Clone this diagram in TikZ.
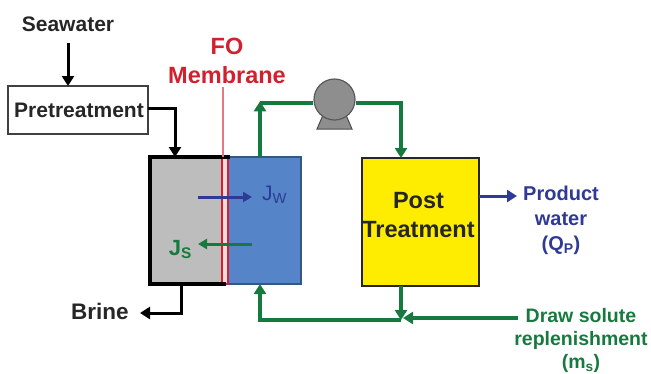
\documentclass[tikz,border=0pt]{standalone}
\usepackage{fontspec}
\setmainfont{Liberation Sans}
\usetikzlibrary{arrows.meta,calc}
\definecolor{dgreen}{HTML}{167A3E}
\definecolor{dblue}{HTML}{2F3A96}
\definecolor{fored}{HTML}{D3202E}
\definecolor{cellblue}{HTML}{5585C8}
\definecolor{cellgrey}{HTML}{BDBDBD}
\definecolor{pumpgrey}{HTML}{8E8E8E}
\tikzset{
  x=1pt,y=-1pt,
  lbl/.style={font=\bfseries\fontsize{21}{25}\selectfont,align=center,inner sep=0pt,text=black!85},
  flow/.style={line width=3pt,-{Triangle[length=10pt,width=12pt]}},
  inner flow/.style={line width=3pt,-{Triangle[length=9pt,width=10pt]}},
  gflow/.style={flow,draw=dgreen,line width=3.4pt},
  gline/.style={draw=dgreen,line width=3.4pt},
  box/.style={inner sep=0pt,outer sep=0pt,anchor=north west},
}
\begin{document}
\begin{tikzpicture}
\useasboundingbox (0,0) rectangle (651,373);
% boxes
\node[box,draw=black!75,line width=1.6pt,fill=white,minimum width=140pt,minimum height=48pt] (pre) at (8,86) {};
\node[lbl] (pretext) at (79,110) {Pretreatment};
\node[lbl] (sea) at (68,24) {Seawater};
\node[box,fill=cellgrey,minimum width=72pt,minimum height=127pt] (grey) at (150,157) {};
\node[box,draw=black!35!cellblue,line width=1.2pt,fill=cellblue,minimum width=73pt,minimum height=127pt] (blue) at (228,157) {};
\node[box,draw=fored,line width=2pt,fill=white!45!pink,minimum width=6.5pt,minimum height=127pt] (mem) at (221.5,157) {};
\draw[black,line width=3.4pt,line cap=rect] (grey.north west -| mem.east) -- (grey.north west) -- (grey.south west) -- (grey.south west -| mem.center);
\node[lbl,text=fored,font=\bfseries\fontsize{23.5}{29}\selectfont] (fo) at (227,60.5) {FO\\Membrane};
\coordinate (memtop) at (223,87);
\draw[fored!60!white,line width=1.4pt] (memtop) -- (memtop |- mem.north);
\node[box,draw=black!85,line width=1.8pt,fill=yellow!95!orange,minimum width=117pt,minimum height=128pt] (post) at (362,158) {};
\node[lbl,font=\bfseries\fontsize{23.5}{29}\selectfont] (posttext) at (418.5,215.5) {Post\\Treatment};
% pump
\filldraw[fill=pumpgrey,draw=black!70,line width=1pt] (323,115) -- (317,129) -- (352,129) -- (346,115) -- cycle;
\node[circle,draw=black!65,line width=1.2pt,fill=pumpgrey,minimum size=41pt,inner sep=0pt] (pump) at (334.5,99.5) {};
% labels
\node[inner sep=0pt,text=dblue,font=\fontsize{21}{24}\selectfont] (jw) at (274.5,194.5) {J\textsubscript{W}};
\node[inner sep=0pt,text=dgreen,font=\bfseries\fontsize{22}{24}\selectfont] (js) at (180.5,249.5) {J\textsubscript{S}};
\node[lbl,font=\bfseries\fontsize{22.5}{25}\selectfont] (brine) at (100,311) {Brine};
\node[lbl,text=dblue,font=\bfseries\fontsize{20}{25}\selectfont] (prod) at (561,220) {Product\\water\\(Q\textsubscript{P})};
\node[lbl,text=dgreen,font=\bfseries\fontsize{19.5}{23}\selectfont] (draw) at (581,340) {Draw solute\\replenishment\\(m\textsubscript{s})};
% connectors
\coordinate (seastart) at (68,43);
\draw[flow] (seastart) -- (seastart |- pre.north);
\coordinate (c1) at (175,108);
\draw[flow] (pre.east |- c1) -- (c1) -- (c1 |- grey.north);
\coordinate (c2) at (260,103);
\draw[gline] (pump.west |- c2) -- (c2);
\draw[gflow] (c2 |- blue.north) -- ($(c2)+(0,-1.7)$);
\coordinate (c3) at (401,103);
\draw[gflow] (pump.east |- c3) -- (c3) -- (c3 |- post.north);
\coordinate (c4) at (181,313);
\coordinate (brinetip) at (140,313);
\draw[flow] (c4 |- grey.south) -- (c4) -- (brinetip);
\coordinate (c5) at (401,320);
\coordinate (c6) at (260,320);
\draw[gflow] (c5) -- (c6) -- (c6 |- blue.south);
\draw[gflow] (c5 |- post.south) -- (c5);
\coordinate (drawstart) at (518,318);
\coordinate (drawtip) at (403,318);
\draw[gflow] (drawstart) -- (drawtip);
\coordinate (c7) at (517,196);
\draw[flow,draw=dblue] (post.east |- c7) -- (c7);
\coordinate (jwa) at (198,197);
\coordinate (jwb) at (252,197);
\draw[inner flow,draw=dblue] (jwa) -- (jwb);
\coordinate (jsa) at (252,244);
\coordinate (jsb) at (198,244);
\draw[inner flow,draw=dgreen] (jsa) -- (jsb);
\end{tikzpicture}
\end{document}
